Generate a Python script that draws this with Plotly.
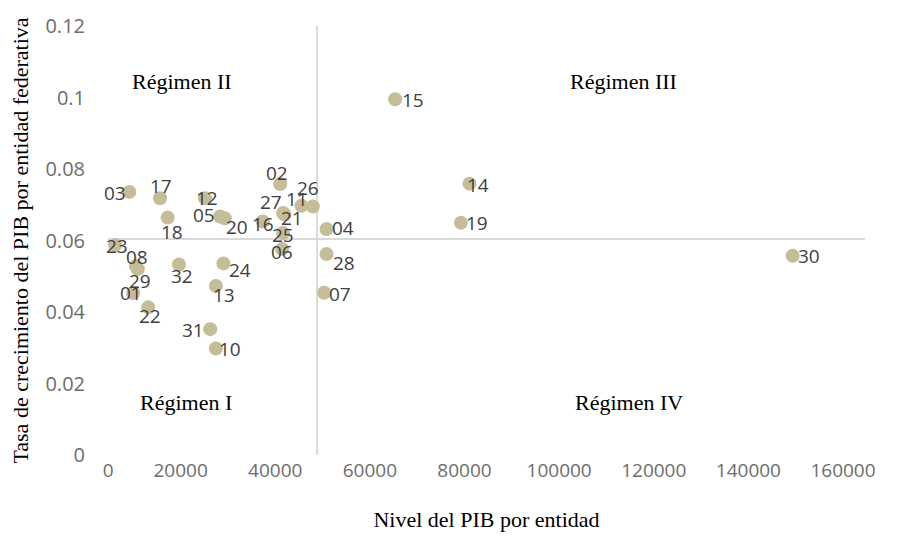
import plotly.graph_objects as go

# entity codes with GDP level (x) and growth rate (y)
codes = ['01', '02', '03', '04', '05', '06', '07', '08', '10', '11', '12',
         '13', '14', '15', '16', '17', '18', '19', '20', '21', '22', '23',
         '24', '25', '26', '27', '28', '29', '30', '31', '32']
pib_nivel = [5300, 36400, 4500, 46200, 23700, 36800, 45700, 5900, 22800,
             40900, 20500, 22800, 76400, 60700, 32700, 11000, 12600, 74600,
             24700, 37300, 8500, 1500, 24400, 37000, 43300, 37000, 46200,
             6300, 144700, 21600, 15000]
pib_tasa = [0.0453, 0.0758, 0.0736, 0.0632, 0.0667, 0.0576, 0.0454, 0.0529,
            0.0298, 0.0697, 0.0718, 0.0473, 0.0759, 0.0995, 0.0653, 0.0718,
            0.0664, 0.0650, 0.0662, 0.0673, 0.0413, 0.0587, 0.0536, 0.0621,
            0.0695, 0.0677, 0.0562, 0.0520, 0.0557, 0.0352, 0.0533]

# where the quadrant axes cross
x_cruce = 44200
y_cruce = 0.0604

x_ticks = [0, 20000, 40000, 60000, 80000, 100000, 120000, 140000, 160000]
x_ticktext = ['\u00a0' * 9 + '0', '20000', '40000', '60000', '80000',
              '100000', '120000', '140000', '160000']

regimenes = ['Régimen II', 'Régimen III', 'Régimen I', 'Régimen IV']
regimen_x = [15600, 109000, 16500, 110200]
regimen_y = [0.1046, 0.1046, 0.0148, 0.0148]

# label offsets in pixels (dx, dy up) so labels sit like the original
offsets = {
    '01': (-2, 0), '02': (-3, 11), '03': (-14, -1), '04': (16, 1),
    '05': (-16, 2), '06': (0, -3), '07': (16, -1), '08': (1, 9),
    '10': (14, -1), '11': (-5, 7), '12': (2, 0), '13': (8, -9),
    '14': (9, -1), '15': (18, -1), '16': (0, -2), '17': (1, 12),
    '18': (4, -14), '19': (16, 0), '20': (12, -9), '21': (8, -4),
    '22': (2, -9), '23': (2, -1), '24': (17, -7), '25': (0, -2),
    '26': (-5, 19), '27': (-12, 11), '28': (17, -9), '29': (2, -12),
    '30': (16, 0), '31': (-17, -1), '32': (3, -12),
}

SERIF = 'Liberation Serif'
SANS = 'Open Sans'

fig = go.Figure()
fig.add_trace(go.Scatter(
    x=pib_nivel, y=pib_tasa, mode='markers', text=codes,
    marker=dict(color='#C4BD97', size=14),
    hovertemplate='%{text}: %{x}, %{y}<extra></extra>', showlegend=False))

# quadrant axes
fig.add_shape(type='line', x0=0, x1=160000, y0=y_cruce, y1=y_cruce,
              line=dict(color='#d9d9d9', width=2), layer='below')
fig.add_shape(type='line', x0=x_cruce, x1=x_cruce, y0=0, y1=0.12,
              line=dict(color='#d9d9d9', width=2), layer='below')

for code, xv, yv in zip(codes, pib_nivel, pib_tasa):
    dx, dy = offsets[code]
    fig.add_annotation(x=xv, y=yv, text=code, showarrow=False,
                       xshift=dx, yshift=dy,
                       font=dict(family=SANS, size=19, color='#404040'))

for name, xv, yv in zip(regimenes, regimen_x, regimen_y):
    fig.add_annotation(x=xv, y=yv, text=name, showarrow=False,
                       font=dict(family=SERIF, size=22, color='#000000'))

# the page body adds ~8px around the figure, margins allow for that
fig.update_layout(
    width=907, height=541,
    margin=dict(l=100, r=50, t=18, b=94),
    plot_bgcolor='white', paper_bgcolor='white',
    xaxis=dict(
        range=[0, 160000], tickvals=x_ticks, ticktext=x_ticktext,
        showgrid=False, zeroline=False, showline=False, automargin=False,
        ticks='', ticklabelstandoff=2, ticklabelshift=-22,
        tickfont=dict(family=SANS, size=19, color='#6d6d6d'),
        title=dict(text='Nivel del PIB por entidad', standoff=29,
                   font=dict(family=SERIF, size=22, color='#000000'))),
    yaxis=dict(
        range=[0, 0.12], dtick=0.02,
        showgrid=False, zeroline=False, showline=False, automargin=False,
        ticks='', ticklabelstandoff=22,
        tickfont=dict(family=SANS, size=20, color='#6d6d6d'),
        title=dict(text='Tasa de crecimiento del PIB por entidad federativa',
                   standoff=16,
                   font=dict(family=SERIF, size=22, color='#000000'))),
)

fig.write_html('out.html')
